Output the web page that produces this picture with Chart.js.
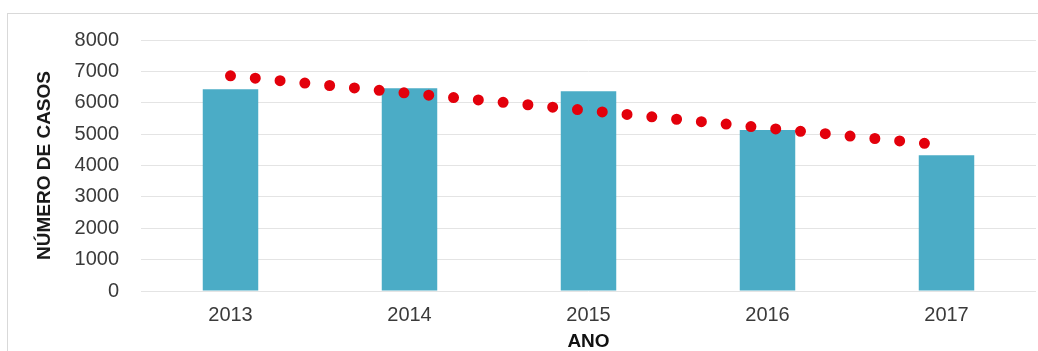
<!DOCTYPE html>
<html>
<head>
<meta charset="utf-8">
<script src="https://cdn.jsdelivr.net/npm/chart.js@4"></script>
<style>
  html, body { margin: 0; padding: 0; background: #fff; }
  #wrap { position: relative; width: 1038px; height: 351px; overflow: hidden; }
  #frame { position: absolute; left: 7px; top: 13px; width: 1040px; height: 400px;
           border-left: 1px solid #d9d9d9; border-top: 1px solid #d9d9d9; }
  canvas { position: absolute; left: 0; top: 0; }
</style>
</head>
<body>
<div id="wrap">
  <div id="frame"></div>
  <canvas id="chart" width="1038" height="351"></canvas>
</div>
<script>
  // ---- Data ----
  const anos = ['2013', '2014', '2015', '2016', '2017'];
  const casos = [6430, 6460, 6370, 5130, 4330];
  const tendencia = [6860, 6300, 5750, 5190, 4640];

  Chart.defaults.font.family = "'Liberation Sans', Arial, sans-serif";
  Chart.defaults.color = '#404040';

  const ctx = document.getElementById('chart').getContext('2d');

  new Chart(ctx, {
    data: {
      labels: anos,
      datasets: [
        {
          type: 'line',
          label: 'Linear',
          data: tendencia,
          borderColor: '#e3000b',
          borderWidth: 11,
          borderDash: [0, 24.9],
          borderCapStyle: 'round',
          pointRadius: 0,
          tension: 0,
          fill: false,
          order: 0,
        },
        {
          type: 'bar',
          label: 'Casos',
          data: casos,
          backgroundColor: '#4bacc6',
          borderWidth: 0,
          barPercentage: 0.31,
          categoryPercentage: 1,
          order: 1,
        },
      ],
    },
    options: {
      responsive: false,
      animation: false,
      layout: { padding: { top: 40, right: 2, bottom: 0, left: 0 } },
      plugins: { legend: { display: false }, tooltip: { enabled: false } },
      scales: {
        x: {
          grid: { display: false, drawTicks: false },
          border: { display: false },
          ticks: { padding: 12, font: { size: 20 }, color: '#3a3a3a' },
          title: { display: true, text: 'ANO', color: '#111', padding: { top: 0, bottom: -2 },
                   font: { size: 19, weight: 'bold' } },
          afterFit: s => { s.height = 60; },
        },
        y: {
          min: 0,
          max: 8000,
          ticks: { stepSize: 1000, padding: 22, font: { size: 20 }, color: '#3a3a3a',
                   callback: v => String(v) },
          grid: { color: '#e4e4e4', lineWidth: 1, drawTicks: false },
          border: { display: false },
          title: { display: true, text: 'NÚMERO DE CASOS', color: '#1a1a1a',
                   padding: { top: 33, bottom: 0 },
                   font: { size: 19, weight: 'bold' } },
          afterFit: s => { s.width = 141; },
        },
      },
    },
  });
</script>
</body>
</html>
